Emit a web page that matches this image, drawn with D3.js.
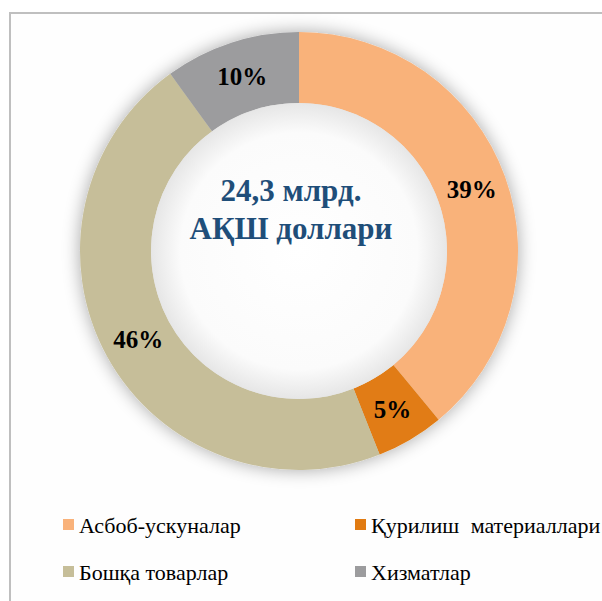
<!DOCTYPE html>
<html>
<head>
<meta charset="utf-8">
<script src="https://cdn.jsdelivr.net/npm/d3@7"></script>
<style>
  body { margin: 0; background: #fff; }
  svg { display: block; }
  text { font-family: "Liberation Serif", "Tinos", "Times New Roman", "DejaVu Serif", serif; }
</style>
</head>
<body>
<div id="chart"></div>
<script>
// chart data
const categories = ["Асбоб-ускуналар", "Қурилиш материаллари", "Бошқа товарлар", "Хизматлар"];
const values = [39, 5, 46, 10];
const colors = ["#F9B27A", "#E17B12", "#C6BE99", "#9C9C9E"];
const centerLines = ["24,3 млрд.", "АҚШ доллари"];

const width = 602, height = 601;
const cx = 299, cy = 251;
const outerR = 219, innerR = 148;

const svg = d3.select("#chart").append("svg")
  .attr("width", width)
  .attr("height", height);

const defs = svg.append("defs");

// soft glow around the ring
const glow = defs.append("filter").attr("id", "glow")
  .attr("x", "-20%").attr("y", "-20%").attr("width", "140%").attr("height", "140%");
glow.append("feGaussianBlur").attr("in", "SourceAlpha").attr("stdDeviation", 9).attr("result", "blur");
glow.append("feComponentTransfer").attr("in", "blur").attr("result", "soft")
  .append("feFuncA").attr("type", "linear").attr("slope", 0.35);
const merge = glow.append("feMerge");
merge.append("feMergeNode").attr("in", "soft");
merge.append("feMergeNode").attr("in", "SourceGraphic");

// hole shading
const holeGrad = defs.append("radialGradient").attr("id", "hole");
holeGrad.append("stop").attr("offset", "0%").attr("stop-color", "#ffffff");
holeGrad.append("stop").attr("offset", "80%").attr("stop-color", "#fbfbfb");
holeGrad.append("stop").attr("offset", "100%").attr("stop-color", "#e6e6e6");

// frame (right and bottom edges run off the page)
svg.append("rect")
  .attr("x", 10).attr("y", 13)
  .attr("width", 700).attr("height", 700)
  .attr("fill", "#fefefe")
  .attr("stroke", "#bfbfbf")
  .attr("stroke-width", 2);

const g = svg.append("g").attr("transform", "translate(" + cx + "," + cy + ")");

const pie = d3.pie().sort(null).value(function (d) { return d; });
const arcs = pie(values);

const arc = d3.arc().innerRadius(innerR).outerRadius(outerR);
const labelArc = d3.arc().innerRadius((innerR + outerR) / 2).outerRadius((innerR + outerR) / 2);

g.append("g").attr("filter", "url(#glow)")
  .selectAll("path")
  .data(arcs)
  .enter().append("path")
  .attr("d", arc)
  .attr("fill", function (d, i) { return colors[i]; });

g.append("circle")
  .attr("r", innerR)
  .attr("fill", "url(#hole)");

// percentage labels
g.selectAll(".pct")
  .data(arcs)
  .enter().append("text")
  .attr("class", "pct")
  .attr("transform", function (d) { return "translate(" + labelArc.centroid(d) + ")"; })
  .attr("text-anchor", "middle")
  .attr("dy", "0.35em")
  .style("font-weight", "bold")
  .style("font-size", "25px")
  .style("fill", "#000")
  .text(function (d) { return d.data + "%"; });

// centre caption
g.selectAll(".center")
  .data(centerLines)
  .enter().append("text")
  .attr("class", "center")
  .attr("x", -8)
  .attr("y", function (d, i) { return -61 + i * 38; })
  .attr("dy", "0.35em")
  .attr("text-anchor", "middle")
  .style("font-weight", "bold")
  .style("font-size", "31px")
  .style("fill", "#1F4E79")
  .text(function (d) { return d; });

// legend
const legend = svg.append("g");
const item = legend.selectAll(".item")
  .data(categories)
  .enter().append("g")
  .attr("class", "item")
  .attr("transform", function (d, i) {
    return "translate(" + (i % 2 === 0 ? 63 : 355) + "," + (i < 2 ? 525 : 572) + ")";
  });

item.append("rect")
  .attr("x", 0).attr("y", -6)
  .attr("width", 11).attr("height", 11)
  .attr("fill", function (d, i) { return colors[i]; });

item.append("text")
  .attr("x", 16)
  .attr("y", 0)
  .attr("dy", "0.35em")
  .style("font-size", "22px")
  .style("word-spacing", function (d, i) { return i === 1 ? "6px" : "0px"; })
  .style("fill", "#000")
  .text(function (d) { return d; });
</script>
</body>
</html>
